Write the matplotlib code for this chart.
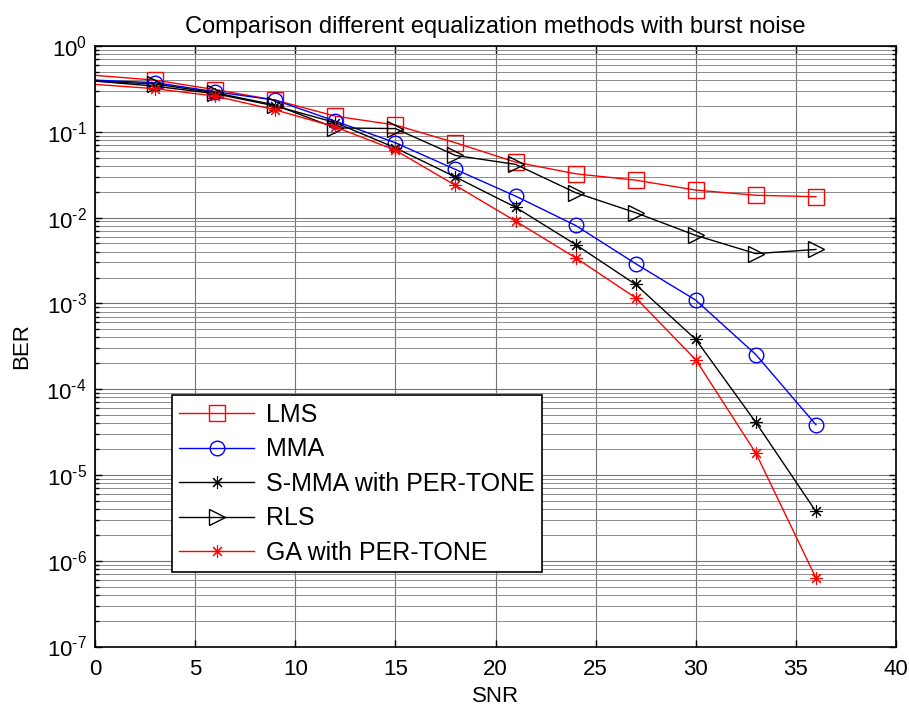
import matplotlib
matplotlib.use("Agg")
import matplotlib.pyplot as plt
import numpy as np
from matplotlib.ticker import LogLocator, NullFormatter, FixedLocator, FuncFormatter

plt.rcParams['font.family'] = ['Liberation Sans', 'DejaVu Sans']
plt.rcParams['mathtext.fontset'] = 'custom'
plt.rcParams['mathtext.rm'] = 'Liberation Sans'
plt.rcParams['mathtext.it'] = 'Liberation Sans:italic'
plt.rcParams['mathtext.bf'] = 'Liberation Sans:bold'
plt.rcParams['axes.unicode_minus'] = False

snr = [0, 3, 6, 9, 12, 15, 18, 21, 24, 27, 30, 33, 36]
lms = [0.455, 0.40, 0.31, 0.234, 0.152, 0.12, 0.0745, 0.0443, 0.0324, 0.0273, 0.0209, 0.0182, 0.0175]
mma = [0.40, 0.374, 0.293, 0.234, 0.133, 0.0745, 0.0364, 0.0178, 0.0081, 0.0029, 0.00109, 0.000253, 3.85e-5]
smma = [0.39, 0.34, 0.278, 0.20, 0.128, 0.065, 0.0297, 0.0132, 0.00485, 0.00166, 0.00038, 4.1e-5, 3.75e-6]
rls = [0.39, 0.36, 0.285, 0.205, 0.111, 0.109, 0.053, 0.0417, 0.0195, 0.0114, 0.0062, 0.0038, 0.00425]
ga = [0.357, 0.318, 0.261, 0.18, 0.114, 0.061, 0.0237, 0.0091, 0.0034, 0.00116, 0.00022, 1.8e-5, 6.3e-7]

names = ['LMS', 'MMA', 'S-MMA with PER-TONE', 'RLS', 'GA with PER-TONE']
series = [lms, mma, smma, rls, ga]
colors = ['#ff0000', '#0000ff', '#000000', '#000000', '#ff0000']
markers = ['s', 'o', (8, 2, 0), '>', (8, 2, 0)]
msizes = [11, 10.5, 9, 11.5, 9]
mews = [1.0, 1.0, 0.8, 1.0, 0.8]

fig = plt.figure(figsize=(9.09, 7.09), dpi=100)
ax = fig.add_axes([95 / 909, 1 - 646.5 / 709, 801 / 909, 600.5 / 709])

for y, n, c, m, ms, mw in zip(series, names, colors, markers, msizes, mews):
    ax.plot(snr, y, color=c, lw=1.0, marker=m, ms=ms, mfc='none', mec=c,
            mew=mw, markevery=list(range(1, len(snr))), label=n)

ax.set_yscale('log')
ax.set_xlim(0, 40)
ax.set_ylim(1e-7, 1)
ax.xaxis.set_major_locator(FixedLocator([0, 5, 10, 15, 20, 25, 30, 35, 40]))
ax.yaxis.set_major_locator(FixedLocator([10.0 ** e for e in range(-7, 1)]))
ax.yaxis.set_minor_locator(LogLocator(base=10, subs=range(2, 10), numticks=20))
ax.yaxis.set_minor_formatter(NullFormatter())


def fmt(v, pos):
    e = int(round(np.log10(v)))
    if e < 0:
        return r'$\mathregular{10^{\text{-}%d}}$' % (-e)
    return r'$\mathregular{10^{%d}}$' % e


ax.yaxis.set_major_formatter(FuncFormatter(fmt))

ax.grid(True, which='major', color='0.45', lw=0.8)
ax.grid(True, which='minor', axis='y', color='0.55', lw=0.7)
ax.set_axisbelow(True)

ax.tick_params(which='both', direction='in', top=True, right=True, labelsize=16)
ax.tick_params(axis='x', which='major', pad=9)
ax.tick_params(axis='y', which='major', pad=6)
ax.tick_params(which='major', length=5, width=1)
ax.tick_params(which='minor', length=3, width=1)
for s in ax.spines.values():
    s.set_linewidth(1.2)

ax.set_title('Comparison different equalization methods with burst noise', fontsize=17, pad=9)
ax.set_xlabel('SNR', fontsize=16, labelpad=4)
ax.set_ylabel('BER', fontsize=16, labelpad=10)

leg = ax.legend(loc='upper left', bbox_to_anchor=(0.096, 0.418), fontsize=18,
                frameon=True, fancybox=False, edgecolor='black', framealpha=1,
                handlelength=3.0, borderpad=0.3, labelspacing=0.42, handletextpad=0.45,
                borderaxespad=0)
leg.get_frame().set_linewidth(1.2)

fig.savefig('out.png', dpi=100)
